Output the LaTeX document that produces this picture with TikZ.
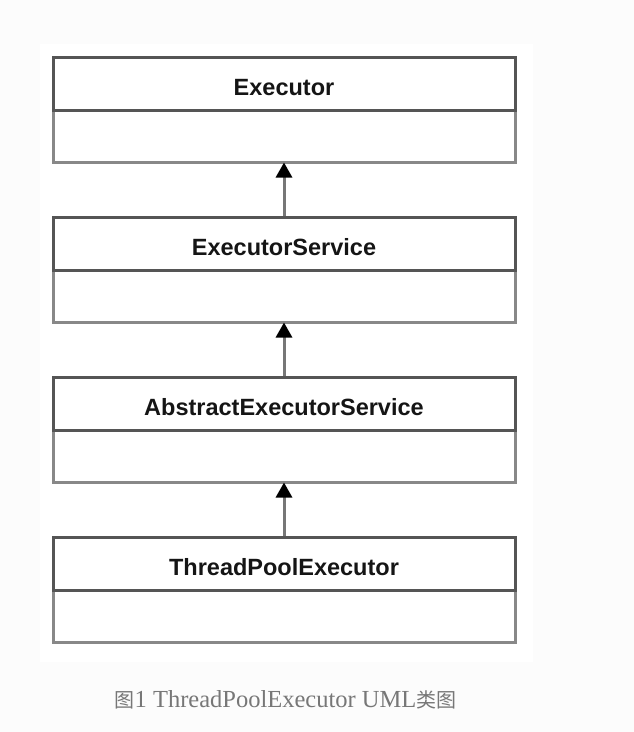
\documentclass[tikz,border=0pt]{standalone}
\usepackage{fontspec}
\setmainfont{Liberation Serif}
\newfontfamily\labelfont{Liberation Sans}
\newfontfamily\cjk{Noto Sans CJK SC}
\usetikzlibrary{arrows.meta}
\definecolor{pagebg}{HTML}{FCFCFC}
\definecolor{headline}{HTML}{555555}
\definecolor{bodyline}{HTML}{888888}
\definecolor{shaft}{HTML}{777777}
\definecolor{captiongray}{HTML}{777777}
\definecolor{labelink}{HTML}{151515}
\tikzset{
  classhead/.style={draw=headline, line width=3pt, minimum width=462pt,
    minimum height=53pt, inner sep=0pt, text height=24pt, text depth=0pt,
    font=\labelfont\bfseries\fontsize{23.5}{28}\selectfont, text=labelink},
  classbody/.style={draw=bodyline, line width=3pt, minimum width=462pt,
    minimum height=52pt, inner sep=0pt},
  inherit/.style={draw=shaft, line width=3pt,
    -{Triangle[width=16pt,length=15pt,color=black]}, shorten >=-1pt}
}
\begin{document}
\begin{tikzpicture}[x=1pt,y=-1pt]
  % page and white panel
  \fill[pagebg] (0,0) rectangle (634,732);
  \fill[white] (40,44) rectangle (533,662);
  \useasboundingbox (0,0) rectangle (634,732);

  % class boxes: body compartment first, header drawn over it
  \node[classbody] (c1) at (284,136) {};
  \node[classhead] (h1) at (284,83.5) {Executor};
  \node[classbody] (c2) at (284,296) {};
  \node[classhead] (h2) at (284,243.5) {ExecutorService};
  \node[classbody] (c3) at (284,456) {};
  \node[classhead] (h3) at (284,403.5) {AbstractExecutorService};
  \node[classbody] (c4) at (284,616) {};
  \node[classhead] (h4) at (284,563.5) {ThreadPoolExecutor};

  % generalisation arrows
  \draw[inherit] (h2.north) -- (c1.south);
  \draw[inherit] (h3.north) -- (c2.south);
  \draw[inherit] (h4.north) -- (c3.south);

  % caption
  \node[anchor=base, text=captiongray, font=\fontsize{24.5}{28}\selectfont] (cap) at (285.5,707)
    {{\cjk\fontsize{20}{24}\selectfont 图}1 ThreadPoolExecutor UML{\cjk\fontsize{20}{24}\selectfont 类图}};
\end{tikzpicture}
\end{document}
